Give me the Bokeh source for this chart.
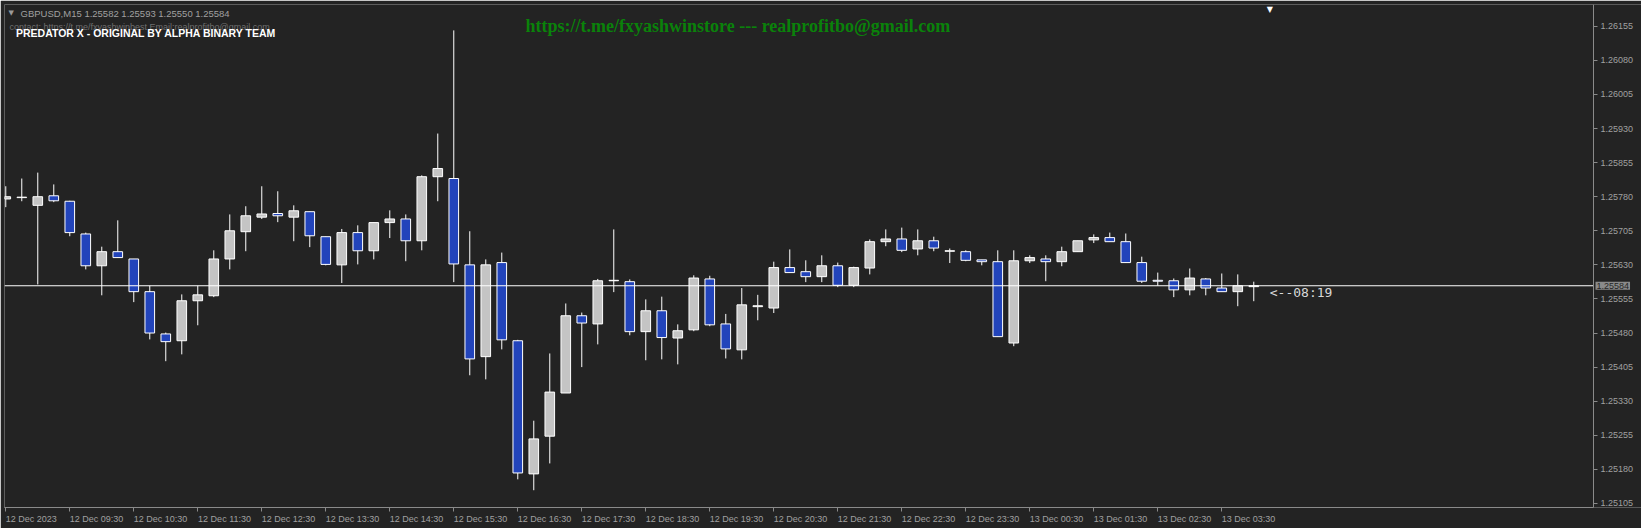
import numpy as np
from bokeh.plotting import figure
from bokeh.models import (Range1d, FixedTicker, PrintfTickFormatter, CustomJSTickFormatter,
                          Label, ColumnDataSource, BoxAnnotation)
from bokeh.embed import file_html
from bokeh.resources import INLINE

# ---------------- data ----------------
symbol = "GBPUSD,M15"
opens = [1.25775, 1.25778, 1.25761, 1.25782, 1.25770, 1.25698, 1.25628, 1.25659, 1.25643, 1.25571,
         1.25478, 1.25463, 1.25551, 1.25562, 1.25643, 1.25703, 1.25735, 1.25743, 1.25735, 1.25747,
         1.25692, 1.25630, 1.25701, 1.25661, 1.25723, 1.25731, 1.25683, 1.25824, 1.25820, 1.25630,
         1.25428, 1.25635, 1.25463, 1.25170, 1.25253, 1.25348, 1.25518, 1.25500, 1.25595, 1.25593,
         1.25483, 1.25529, 1.25469, 1.25487, 1.25599, 1.25500, 1.25443, 1.25538, 1.25535, 1.25624,
         1.25615, 1.25604, 1.25628, 1.25585, 1.25623, 1.25681, 1.25687, 1.25665, 1.25683, 1.25660,
         1.25659, 1.25641, 1.25637, 1.25458, 1.25639, 1.25643, 1.25637, 1.25659, 1.25685, 1.25690,
         1.25681, 1.25635, 1.25596, 1.25595, 1.25575, 1.25599, 1.25579, 1.25571, 1.25582]
highs = [1.25803, 1.25820, 1.25833, 1.25807, 1.25771, 1.25701, 1.25670, 1.25728, 1.25643, 1.25584,
         1.25481, 1.25565, 1.25584, 1.25662, 1.25741, 1.25759, 1.25803, 1.25792, 1.25761, 1.25747,
         1.25692, 1.25709, 1.25717, 1.25723, 1.25750, 1.25741, 1.25827, 1.25919, 1.26146, 1.25704,
         1.25642, 1.25657, 1.25465, 1.25287, 1.25435, 1.25545, 1.25525, 1.25599, 1.25708, 1.25598,
         1.25554, 1.25560, 1.25499, 1.25607, 1.25606, 1.25522, 1.25579, 1.25564, 1.25637, 1.25664,
         1.25640, 1.25651, 1.25635, 1.25626, 1.25686, 1.25708, 1.25712, 1.25708, 1.25692, 1.25666,
         1.25662, 1.25641, 1.25662, 1.25662, 1.25651, 1.25651, 1.25670, 1.25683, 1.25697, 1.25701,
         1.25699, 1.25648, 1.25613, 1.25600, 1.25622, 1.25601, 1.25611, 1.25609, 1.25593]
lows = [1.25757, 1.25770, 1.25587, 1.25768, 1.25693, 1.25620, 1.25563, 1.25646, 1.25548, 1.25466,
        1.25418, 1.25433, 1.25497, 1.25559, 1.25620, 1.25660, 1.25731, 1.25724, 1.25682, 1.25669,
        1.25629, 1.25590, 1.25631, 1.25642, 1.25689, 1.25638, 1.25662, 1.25770, 1.25592, 1.25387,
        1.25378, 1.25444, 1.25158, 1.25134, 1.25193, 1.25348, 1.25405, 1.25455, 1.25570, 1.25475,
        1.25420, 1.25422, 1.25411, 1.25484, 1.25495, 1.25424, 1.25422, 1.25508, 1.25524, 1.25613,
        1.25592, 1.25592, 1.25581, 1.25581, 1.25609, 1.25671, 1.25658, 1.25651, 1.25660, 1.25634,
        1.25638, 1.25629, 1.25472, 1.25451, 1.25634, 1.25594, 1.25627, 1.25659, 1.25678, 1.25681,
        1.25635, 1.25590, 1.25584, 1.25559, 1.25563, 1.25563, 1.25571, 1.25539, 1.25550]
closes = [1.25780, 1.25779, 1.25780, 1.25771, 1.25701, 1.25628, 1.25659, 1.25646, 1.25571, 1.25480,
          1.25461, 1.25551, 1.25564, 1.25643, 1.25705, 1.25738, 1.25742, 1.25738, 1.25749, 1.25694,
          1.25631, 1.25701, 1.25661, 1.25723, 1.25731, 1.25683, 1.25824, 1.25842, 1.25632, 1.25423,
          1.25630, 1.25465, 1.25172, 1.25247, 1.25350, 1.25518, 1.25502, 1.25595, 1.25596, 1.25483,
          1.25529, 1.25470, 1.25485, 1.25601, 1.25498, 1.25445, 1.25542, 1.25540, 1.25624, 1.25613,
          1.25604, 1.25628, 1.25585, 1.25624, 1.25681, 1.25687, 1.25662, 1.25683, 1.25667, 1.25661,
          1.25640, 1.25637, 1.25472, 1.25639, 1.25646, 1.25637, 1.25659, 1.25683, 1.25690, 1.25681,
          1.25635, 1.25594, 1.25594, 1.25575, 1.25601, 1.25579, 1.25571, 1.25584, 1.25584]
x_tick_bars = [0, 4, 8, 12, 16, 20, 24, 28, 32, 36, 40, 44, 48, 52, 56, 60, 64, 68, 72, 76]
x_tick_labels = ["12 Dec 2023", "12 Dec 09:30", "12 Dec 10:30", "12 Dec 11:30", "12 Dec 12:30",
                 "12 Dec 13:30", "12 Dec 14:30", "12 Dec 15:30", "12 Dec 16:30", "12 Dec 17:30",
                 "12 Dec 18:30", "12 Dec 19:30", "12 Dec 20:30", "12 Dec 21:30", "12 Dec 22:30",
                 "12 Dec 23:30", "13 Dec 00:30", "13 Dec 01:30", "13 Dec 02:30", "13 Dec 03:30"]
y_ticks = [1.25105, 1.25180, 1.25255, 1.25330, 1.25405, 1.25480, 1.25555, 1.25630,
           1.25705, 1.25780, 1.25855, 1.25930, 1.26005, 1.26080, 1.26155]
countdown = "08:19"
title_text = "PREDATOR X - ORIGINAL BY ALPHA BINARY TEAM"
contact_text = "contact:  https://t.me/fxyashwinbest Email:realprofitbo@gmail.com"
banner_text = "https://t.me/fxyashwinstore --- realprofitbo@gmail.com"

# ---------------- layout ----------------
W, H = 1641, 528
LEFT, TOP, BOTTOM = 4, 4, 21
SCALE_W = 48                      # width of the price scale at the right
BAR_PX = 16
frame_w = W - LEFT
frame_h = H - TOP - BOTTOM
x_start = -0.08
x_end = x_start + frame_w / BAR_PX
axis_x = x_start + (frame_w - SCALE_W) / BAR_PX
y_lo, y_hi = 1.25096, 1.26203

BG = "#232323"
AX = "#8a8a8a"
LBL = "#a0a0a0"
BULL = "#c4c4c4"
BEAR = "#2244bb"
FONT = "Liberation Sans"

p = figure(width=W, height=H, x_range=Range1d(x_start, x_end), y_range=Range1d(y_lo, y_hi),
           y_axis_location="right", output_backend="svg", toolbar_location=None,
           min_border_left=LEFT, min_border_top=TOP, min_border_right=0,
           min_border_bottom=BOTTOM)
p.background_fill_color = BG
p.border_fill_color = BG
p.outline_line_color = None
p.xgrid.visible = False
p.ygrid.visible = False

# chart border (top / left)
p.add_layout(BoxAnnotation(left=x_start, right=axis_x, bottom=y_lo, top=y_hi,
                           fill_alpha=0, line_color="#7a7a7a", line_width=1, level="underlay"))

# candles
x = np.arange(len(opens))
o = np.array(opens)
c = np.array(closes)
colors = np.where(c >= o, BULL, BEAR)
src = ColumnDataSource(dict(x=x, top=np.maximum(o, c), bottom=np.minimum(o, c),
                            high=highs, low=lows, color=colors))
p.segment(x0="x", y0="high", x1="x", y1="low", line_color="white", line_width=1, source=src)
p.vbar(x="x", width=0.6, top="top", bottom="bottom", fill_color="color",
       line_color="white", line_width=1, source=src)

# bid line (ends at the price scale)
p.segment(x0=[x_start], y0=[closes[-1]], x1=[axis_x], y1=[closes[-1]],
          line_color="white", line_width=1)

# y axis (price scale drawn at a fixed location inside the canvas)
p.yaxis.fixed_location = axis_x
p.yaxis.ticker = FixedTicker(ticks=y_ticks)
p.yaxis.formatter = PrintfTickFormatter(format="%.5f")
p.yaxis.axis_line_color = AX
p.yaxis.major_tick_line_color = AX
p.yaxis.major_tick_out = 4
p.yaxis.major_tick_in = 0
p.yaxis.minor_tick_line_color = None
p.yaxis.major_label_standoff = 3
p.yaxis.major_label_text_font = FONT
p.yaxis.major_label_text_font_size = "9px"
p.yaxis.major_label_text_color = LBL

# x axis: labels start at the tick (left aligned), so shift label positions by half width
cw = {" ": .278, ":": .278, "D": .722, "e": .556, "c": .5}
def half_w_bars(s):
    return sum(cw.get(ch, .556) for ch in s) * 9 / 2 / BAR_PX

label_pos = []
for b, s in zip(x_tick_bars, x_tick_labels):
    pos = b + half_w_bars(s)
    pos = max(pos, x_start + half_w_bars(s) + 0.05)
    label_pos.append(float(pos))

p.xaxis.bounds = (x_start, axis_x)
p.xaxis.ticker = FixedTicker(ticks=label_pos, minor_ticks=[float(b) for b in x_tick_bars])
p.xaxis.formatter = CustomJSTickFormatter(args=dict(pos=label_pos, labs=x_tick_labels), code="""
let best = 0;
for (let i = 0; i < pos.length; i++) {
  if (Math.abs(pos[i] - tick) < Math.abs(pos[best] - tick)) best = i;
}
return labs[best];
""")
p.xaxis.axis_line_color = AX
p.xaxis.major_tick_line_color = None
p.xaxis.major_tick_out = 4
p.xaxis.major_tick_in = 0
p.xaxis.minor_tick_line_color = AX
p.xaxis.minor_tick_out = 4
p.xaxis.minor_tick_in = 0
p.xaxis.major_label_standoff = 2
p.xaxis.major_label_text_font = FONT
p.xaxis.major_label_text_font_size = "9px"
p.xaxis.major_label_text_color = LBL

# current price box on the price scale
p.add_layout(Label(x=axis_x, x_offset=2, y=closes[-1],
                   text=f"{closes[-1]:.5f}", text_font=FONT, text_font_size="9px",
                   text_color="#262626", text_baseline="middle", text_align="left",
                   background_fill_color="#8a8a8a", padding=1, level="overlay"))

# countdown text
p.add_layout(Label(x=len(opens), y=closes[-1], y_offset=-7, text="<--" + countdown,
                   text_font="DejaVu Sans Mono", text_font_size="13px", text_color="#d8d8d8",
                   text_baseline="middle", text_align="left"))

# chart-shift marker
p.add_layout(Label(x=len(opens), y=y_hi, text="\u25BC", text_font="DejaVu Sans",
                   text_font_size="8px", text_color="white", text_align="center",
                   text_baseline="top"))

# header texts
top = frame_h
p.add_layout(Label(x=4, y=top - 8, x_units="screen", y_units="screen", text="\u25BC",
                   text_font="DejaVu Sans", text_font_size="7px", text_color="#9a9a9a",
                   text_baseline="middle"))
header = f"{symbol}  {opens[-1]:.5f} {highs[-1]:.5f} {lows[-1]:.5f} {closes[-1]:.5f}"
p.add_layout(Label(x=16, y=top - 8.7, x_units="screen", y_units="screen", text=header,
                   text_font=FONT, text_font_size="9.5px", text_color="#a0a0a0",
                   text_baseline="middle"))
p.add_layout(Label(x=5, y=top - 22, x_units="screen", y_units="screen", text=contact_text,
                   text_font=FONT, text_font_size="9px", text_color="#6e6e6e",
                   text_baseline="middle"))
p.add_layout(Label(x=11.5, y=top - 28.3, x_units="screen", y_units="screen", text=title_text,
                   text_font=FONT, text_font_size="10.5px", text_font_style="bold",
                   text_color="white", text_baseline="middle"))
p.add_layout(Label(x=521, y=top - 21, x_units="screen", y_units="screen", text=banner_text,
                   text_font="Liberation Serif", text_font_size="18px", text_font_style="bold",
                   text_color="#0a820a", text_baseline="middle"))

open("out.html", "w").write(file_html(p, INLINE))
